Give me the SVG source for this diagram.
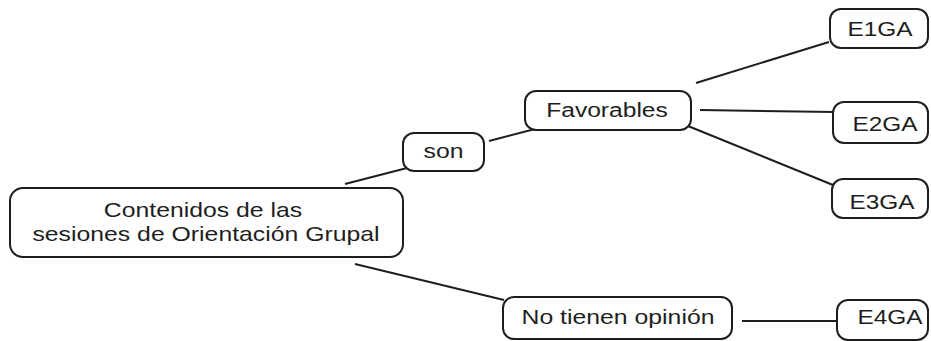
<svg xmlns="http://www.w3.org/2000/svg" width="931" height="341" viewBox="0 0 931 341">
<style>
.box{fill:#fff;stroke:#1e1e1e;stroke-width:2}
.lbl{font-family:"Liberation Sans",Arial,sans-serif;font-size:20px;fill:#1e1e1e;text-anchor:middle}
.edge{stroke:#1e1e1e;stroke-width:2;fill:none}
</style>
<rect width="931" height="341" fill="#fff"/>
<g id="connectors">
<line class="edge" x1="345" y1="184" x2="407" y2="168"/>
<line class="edge" x1="489" y1="141" x2="535" y2="129"/>
<line class="edge" x1="696" y1="83" x2="829" y2="42"/>
<line class="edge" x1="700" y1="110" x2="834" y2="112"/>
<line class="edge" x1="688" y1="126" x2="833" y2="185"/>
<line class="edge" x1="355" y1="264" x2="504" y2="300"/>
<line class="edge" x1="742" y1="321" x2="836" y2="321"/>
</g>
<g id="main">
<rect class="box" x="10" y="188" width="393" height="69" rx="13"/>
<text class="lbl" transform="translate(203 217) scale(1.24 1)">Contenidos de las</text>
<text class="lbl" transform="translate(206 241) scale(1.24 1)">sesiones de Orientación Grupal</text>
</g>
<g id="son">
<rect class="box" x="403" y="133" width="81" height="38" rx="11"/>
<text class="lbl" transform="translate(443.5 158) scale(1.24 1)">son</text>
</g>
<g id="favorables">
<rect class="box" x="525" y="91" width="166" height="39" rx="11"/>
<text class="lbl" transform="translate(607 117) scale(1.23 1)">Favorables</text>
</g>
<g id="e1ga">
<rect class="box" x="830" y="9" width="98" height="39" rx="11"/>
<text class="lbl" transform="translate(880 36) scale(1.22 1)">E1GA</text>
</g>
<g id="e2ga">
<rect class="box" x="833" y="102" width="95" height="41" rx="11"/>
<text class="lbl" transform="translate(885 131) scale(1.22 1)">E2GA</text>
</g>
<g id="e3ga">
<rect class="box" x="832" y="179" width="96" height="39" rx="11"/>
<text class="lbl" transform="translate(882 209) scale(1.22 1)">E3GA</text>
</g>
<g id="no-tienen">
<rect class="box" x="503" y="297" width="229" height="42" rx="11"/>
<text class="lbl" transform="translate(618 324) scale(1.24 1)">No tienen opinión</text>
</g>
<g id="e4ga">
<rect class="box" x="837" y="300" width="91" height="40" rx="11"/>
<text class="lbl" transform="translate(890 324) scale(1.22 1)">E4GA</text>
</g>
</svg>
